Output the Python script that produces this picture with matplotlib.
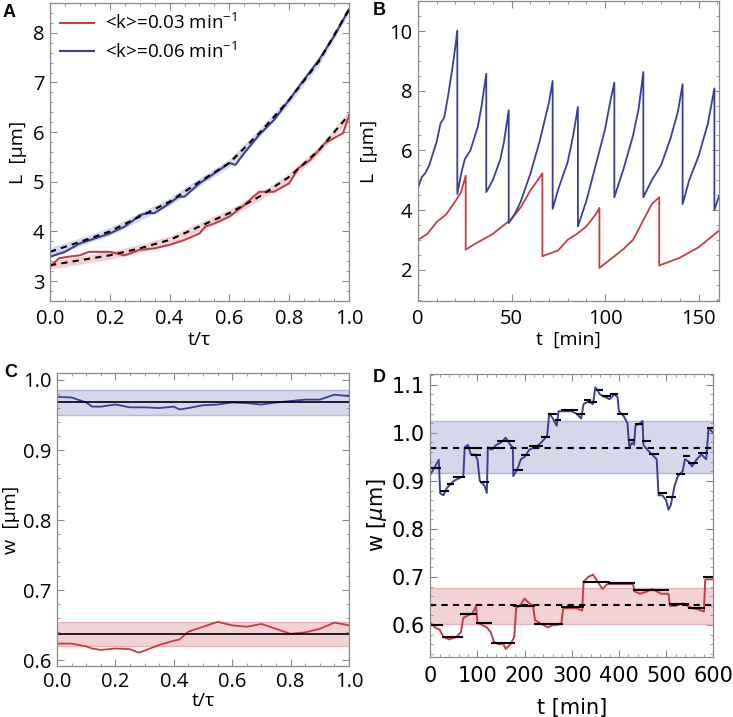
import matplotlib.pyplot as plt
from matplotlib.ticker import MultipleLocator
import numpy as np

RED = '#c63d46'
BLUE = '#3b3f9b'
RED_BAND = '#f2d2d5'
BLUE_BAND = '#d6d7ea'

# ---- panel A: length vs normalised cell-cycle time ----
a_t = [0.0, 0.05, 0.1, 0.15, 0.2, 0.25, 0.28, 0.3, 0.33, 0.35, 0.4, 0.43, 0.45,
       0.5, 0.55, 0.6, 0.62, 0.65, 0.7, 0.75, 0.8, 0.85, 0.9, 0.95, 1.0]
a_blue = [3.49, 3.59, 3.76, 3.86, 3.96, 4.10, 4.23, 4.33, 4.37, 4.37, 4.57, 4.70, 4.70,
          4.97, 5.17, 5.38, 5.34, 5.58, 5.95, 6.25, 6.65, 7.06, 7.46, 7.93, 8.47]
a_t_red = [0.0, 0.03, 0.06, 0.1, 0.13, 0.2, 0.25, 0.3, 0.35, 0.4, 0.45, 0.5, 0.52,
           0.55, 0.6, 0.65, 0.68, 0.7, 0.75, 0.8, 0.83, 0.87, 0.9, 0.92, 0.95, 0.98, 1.0]
a_red = [3.29, 3.46, 3.49, 3.52, 3.59, 3.59, 3.52, 3.63, 3.66, 3.73, 3.83, 3.96, 4.10,
         4.16, 4.30, 4.53, 4.70, 4.80, 4.80, 4.97, 5.27, 5.44, 5.64, 5.78, 5.88, 5.98, 6.32]
a_fit_t = [0.0, 0.1, 0.2, 0.3, 0.4, 0.5, 0.6, 0.7, 0.8, 0.9, 1.0]
a_fit_blue = [3.59, 3.79, 4.00, 4.30, 4.60, 5.00, 5.38, 5.98, 6.65, 7.43, 8.47]
a_fit_red = [3.32, 3.42, 3.52, 3.66, 3.83, 4.10, 4.37, 4.70, 5.10, 5.64, 6.35]
a_band = 0.08

# ---- panel B: length traces over time ----
b_t_blue = [0, 2, 4, 6, 8, 10, 12, 14, 16, 18, 20, 21, 21, 23, 25, 28, 32, 34, 36.5, 36.5,
            40, 44, 46, 48.5, 48.5, 52, 55, 60, 65, 70, 72, 72, 75, 80, 83, 85.5, 85.5, 90,
            95, 100, 103, 105, 105, 110, 115, 118, 120.5, 120.5, 125, 130, 135, 139, 141.5,
            141.5, 145, 150, 155, 158.5, 158.5, 161]
b_blue = [4.75, 5.1, 5.25, 5.5, 5.9, 6.3, 6.9, 7.1, 7.8, 8.6, 9.5, 10.02, 4.54, 5.2, 5.7,
          6.0, 6.8, 7.5, 8.57, 4.6, 5.0, 5.7, 6.3, 7.35, 3.56, 3.9, 4.3, 5.2, 6.3, 7.6, 8.33,
          4.04, 4.7, 5.6, 6.5, 7.46, 3.45, 4.3, 5.5, 6.7, 7.7, 8.27, 4.43, 5.4, 6.5, 7.4, 8.63,
          4.43, 5.0, 5.5, 6.4, 7.3, 8.22, 4.2, 5.0, 5.8, 6.9, 8.08, 4.0, 4.48]
b_t_red = [0, 5, 10, 15, 20, 23, 25.5, 25.5, 30, 40, 50, 55, 60, 64, 66.5, 66.5, 75, 80,
           85, 90, 95, 97, 97, 105, 110, 115, 120, 125, 129, 129, 140, 150, 161]
b_red = [3.0, 3.2, 3.6, 3.85, 4.3, 4.6, 5.15, 2.67, 2.85, 3.2, 3.7, 4.1, 4.65, 5.0, 5.23,
         2.45, 2.65, 3.0, 3.2, 3.45, 3.85, 4.07, 2.06, 2.45, 2.7, 3.0, 3.6, 4.2, 4.43, 2.14,
         2.4, 2.75, 3.31]

# ---- panel C: width vs normalised cell-cycle time ----
c_t = [0.0, 0.05, 0.1, 0.12, 0.15, 0.2, 0.25, 0.28, 0.3, 0.35, 0.4, 0.42, 0.45, 0.5,
       0.55, 0.6, 0.65, 0.7, 0.75, 0.8, 0.85, 0.9, 0.95, 1.0]
c_blue = [0.976, 0.975, 0.968, 0.962, 0.962, 0.965, 0.961, 0.961, 0.961, 0.960, 0.962,
          0.958, 0.960, 0.964, 0.965, 0.968, 0.967, 0.965, 0.968, 0.970, 0.972, 0.972,
          0.979, 0.977]
c_red = [0.624, 0.624, 0.620, 0.617, 0.615, 0.617, 0.616, 0.611, 0.614, 0.622, 0.628,
         0.630, 0.641, 0.648, 0.655, 0.650, 0.648, 0.652, 0.645, 0.638, 0.640, 0.645,
         0.654, 0.650]
c_mean = [0.968, 0.637]
c_lo = [0.950, 0.620]
c_hi = [0.986, 0.655]

# ---- panel D: width traces over time with per-cycle means ----
d_t_blue = [0, 10, 18, 21, 28, 35, 40, 50, 60, 70, 73, 80, 86, 95, 100, 105, 115, 120,
            122, 130, 140, 150, 160, 170, 175, 176, 185, 192, 200, 210, 220, 230, 240,
            248, 252, 260, 265, 268, 272, 285, 300, 310, 315, 320, 325, 335, 345, 350,
            360, 370, 380, 390, 397, 400, 410, 418, 422, 428, 432, 435, 445, 450, 452,
            460, 470, 480, 484, 492, 500, 505, 510, 518, 525, 535, 540, 548, 555, 565,
            575, 585, 590, 600]
d_blue = [0.913, 0.93, 0.944, 0.874, 0.87, 0.885, 0.89, 0.90, 0.905, 0.91, 0.97, 0.975,
          0.955, 0.955, 0.945, 0.90, 0.89, 0.875, 0.97, 0.965, 0.975, 0.98, 0.99, 0.975,
          0.97, 0.91, 0.925, 0.945, 0.95, 0.965, 0.97, 0.975, 0.985, 0.995, 1.04, 1.03,
          1.02, 1.015, 1.045, 1.045, 1.045, 1.04, 1.035, 1.03, 1.06, 1.065, 1.06, 1.095,
          1.08, 1.075, 1.07, 1.08, 1.075, 1.045, 1.035, 1.02, 0.97, 0.98, 0.975, 1.015,
          1.02, 1.025, 0.975, 0.965, 0.955, 0.945, 0.87, 0.87, 0.86, 0.84, 0.85, 0.89,
          0.91, 0.92, 0.945, 0.94, 0.93, 0.945, 0.955, 0.945, 1.01, 1.0]
d_t_red = [0, 10, 20, 28, 40, 55, 65, 70, 80, 90, 97, 100, 110, 120, 128, 135, 145, 155,
           160, 170, 178, 182, 190, 200, 210, 218, 222, 230, 240, 250, 260, 270, 278,
           282, 295, 310, 322, 325, 335, 345, 355, 365, 375, 390, 405, 420, 430, 433,
           445, 460, 470, 480, 490, 505, 508, 520, 535, 545, 555, 565, 575, 580, 583, 600]
d_red = [0.605, 0.595, 0.59, 0.575, 0.57, 0.575, 0.585, 0.615, 0.62, 0.625, 0.64, 0.605,
         0.60, 0.595, 0.585, 0.565, 0.56, 0.56, 0.55, 0.56, 0.575, 0.635, 0.64, 0.655,
         0.645, 0.64, 0.61, 0.605, 0.60, 0.595, 0.60, 0.60, 0.605, 0.635, 0.635, 0.635,
         0.63, 0.69, 0.70, 0.705, 0.69, 0.675, 0.685, 0.685, 0.685, 0.685, 0.685, 0.67,
         0.665, 0.67, 0.675, 0.67, 0.665, 0.665, 0.64, 0.64, 0.645, 0.64, 0.635, 0.633,
         0.63, 0.628, 0.695, 0.695]
d_seg_blue_start = [0, 20.5, 36, 49, 72, 86, 105, 121, 141, 175, 192, 209, 235, 250, 264,
                    277, 310, 326, 335, 351, 365, 381, 396, 420, 434, 448, 464, 483, 499,
                    520, 536, 547, 568, 587]
d_seg_blue_end = [22.6, 39.6, 50, 73, 96, 107, 124, 146, 180, 196, 211, 240, 254, 268, 278,
                  314, 329, 341, 353, 367, 384, 399, 420, 435, 452, 467, 484, 501, 522,
                  540, 551, 568, 589, 600]
d_seg_blue = [0.926, 0.880, 0.893, 0.908, 0.969, 0.954, 0.897, 0.969, 0.984, 0.923, 0.953,
              0.972, 0.992, 1.040, 1.026, 1.048, 1.040, 1.069, 1.064, 1.090, 1.076, 1.081,
              1.040, 0.985, 1.019, 0.983, 0.956, 0.874, 0.867, 0.915, 0.952, 0.938, 0.958,
              1.010]
d_seg_red_start = [0, 24, 64, 96, 128, 176, 220, 278, 323, 376, 430, 507, 546, 578]
d_seg_red_end = [26, 69, 100, 131, 180, 222, 282, 326, 380, 434, 507, 549, 582, 600]
d_seg_red = [0.600, 0.576, 0.623, 0.605, 0.562, 0.640, 0.602, 0.638, 0.689, 0.688, 0.673,
             0.644, 0.635, 0.700]
d_mean = [0.969, 0.642]
d_lo = [0.916, 0.603]
d_hi = [1.024, 0.678]

plt.rcParams['font.family'] = ['Open Sans', 'DejaVu Sans']
plt.rcParams['font.size'] = 14
plt.rcParams['mathtext.default'] = 'regular'

fig = plt.figure(figsize=(7.33, 7.17), dpi=100)
axA = fig.add_axes([0.0682, 0.5802, 0.4079, 0.4156])
axB = fig.add_axes([0.5703, 0.5802, 0.4107, 0.4180])
axC = fig.add_axes([0.0778, 0.0711, 0.3983, 0.4087])
axD = fig.add_axes([0.5870, 0.0841, 0.3861, 0.3939])


def frame(ax, xmaj, xmin, ymaj, ymin, size=14.5):
    for s in ax.spines.values():
        s.set_color('#8a8a8a')
        s.set_linewidth(0.9)
    ax.tick_params(which='both', direction='in', top=True, right=True,
                   color='#8a8a8a', labelsize=size, pad=4)
    ax.tick_params(which='major', length=5)
    ax.tick_params(which='minor', length=2.5)
    ax.xaxis.set_major_locator(MultipleLocator(xmaj))
    ax.xaxis.set_minor_locator(MultipleLocator(xmin))
    ax.yaxis.set_major_locator(MultipleLocator(ymaj))
    ax.yaxis.set_minor_locator(MultipleLocator(ymin))


# A
ft = np.array(a_fit_t)
for fit, col, band in [(a_fit_red, RED, RED_BAND), (a_fit_blue, BLUE, BLUE_BAND)]:
    fit = np.array(fit)
    axA.fill_between(ft, fit - a_band, fit + a_band, color=band, lw=0)
axA.plot(a_t_red, a_red, color=RED, lw=1.5, label='<k>=0.03 min$^{-1}$')
axA.plot(a_t, a_blue, color=BLUE, lw=1.5, label='<k>=0.06 min$^{-1}$')
axA.plot(a_fit_t, a_fit_red, 'k--', lw=1.5, dashes=(3, 2.5))
axA.plot(a_fit_t, a_fit_blue, 'k--', lw=1.5, dashes=(3, 2.5))
axA.set_xlim(0, 1)
axA.set_ylim(2.6, 8.6)
frame(axA, 0.2, 0.05, 1, 0.2)
axA.tick_params(axis='x', pad=6)
axA.set_xlabel('t/τ', labelpad=1)
axA.set_ylabel('L  [µm]', labelpad=4)
axA.legend(loc='upper left', frameon=False, fontsize=13.5, handlelength=1.8,
           borderaxespad=0.15, labelspacing=0.45, handletextpad=0.6)

# B
axB.plot(b_t_red, b_red, color=RED, lw=1.3)
axB.plot(b_t_blue, b_blue, color=BLUE, lw=1.3)
axB.set_xlim(0, 161)
axB.set_ylim(0.95, 11)
frame(axB, 50, 10, 2, 0.5)
axB.tick_params(axis='x', pad=6)
axB.set_xlabel('t  [min]', labelpad=1)
axB.set_ylabel('L  [µm]', labelpad=8)

# C
for m, lo, hi, band, edge in zip(c_mean, c_lo, c_hi, [BLUE_BAND, RED_BAND],
                                 ['#b6b8d8', '#e7b3b7']):
    axC.axhspan(lo, hi, color=band, lw=0)
    axC.axhline(lo, color=edge, lw=1)
    axC.axhline(hi, color=edge, lw=1)
axC.plot(c_t, c_blue, color=BLUE, lw=1.3)
axC.plot(c_t, c_red, color=RED, lw=1.3)
for m in c_mean:
    axC.axhline(m, color='k', lw=1.2)
axC.set_xlim(0, 1)
axC.set_ylim(0.592, 1.01)
frame(axC, 0.2, 0.05, 0.1, 0.02)
axC.set_xlabel('t/τ', labelpad=0)
axC.set_ylabel('w  [µm]', labelpad=2)

# D
for m, lo, hi, band, edge in zip(d_mean, d_lo, d_hi, [BLUE_BAND, RED_BAND],
                                 ['#b6b8d8', '#e7b3b7']):
    axD.axhspan(lo, hi, color=band, lw=0)
    axD.axhline(lo, color=edge, lw=1)
    axD.axhline(hi, color=edge, lw=1)
axD.plot(d_t_blue, d_blue, color=BLUE, lw=1.4)
axD.plot(d_t_red, d_red, color=RED, lw=1.4)
axD.hlines(d_seg_blue, d_seg_blue_start, d_seg_blue_end, color='k', lw=1.5)
axD.hlines(d_seg_red, d_seg_red_start, d_seg_red_end, color='k', lw=1.5)
for m in d_mean:
    axD.axhline(m, color='k', lw=1.5, ls=(0, (3, 2.5)))
axD.set_xlim(0, 600)
axD.set_ylim(0.534, 1.122)
frame(axD, 100, 20, 0.1, 0.02, size=15)
axD.tick_params(axis='x', pad=7)
for lab in axD.get_xticklabels() + axD.get_yticklabels():
    lab.set_family('DejaVu Sans')
axD.set_xlabel('t [min]', family='DejaVu Sans', fontsize=15, labelpad=8)
axD.set_ylabel(r'w [$\mathit{\mu}$m]', family='DejaVu Sans', fontsize=15, labelpad=2)

# panel letters
for x, y, s in [(0.004, 0.982, 'A'), (0.509, 0.986, 'B'), (0.006, 0.480, 'C'), (0.509, 0.474, 'D')]:
    fig.text(x, y, s, fontsize=13, fontweight='bold', family='Liberation Sans',
             va='center', ha='left')

fig.savefig('out.png', dpi=100)
